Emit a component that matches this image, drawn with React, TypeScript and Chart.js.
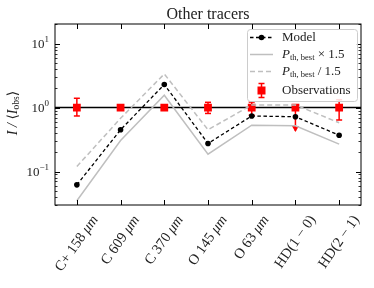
import React, { useEffect, useRef } from "react";
import { Chart, registerables } from "chart.js";

Chart.register(...registerables);

const categories = ["C+ 158 μm", "C 609 μm", "C 370 μm", "O 145 μm", "O 63 μm", "HD(1 − 0)", "HD(2 − 1)"];
const labelPrefixes = ["C+ 158 ", "C 609 ", "C 370 ", "O 145 ", "O 63 ", "HD(1 − 0)", "HD(2 − 1)"];
const labelUnits = ["μm", "μm", "μm", "μm", "μm", "", ""];
const modelValues = [0.062, 0.45, 2.3, 0.275, 0.74, 0.72, 0.37];
const pthTimes15 = [0.035, 0.305, 1.56, 0.187, 0.53, 0.52, 0.268];
const pthDiv15 = [0.12, 0.68, 3.36, 0.45, 1.1, 1.1, 0.58];
const obsValues = [1, 1, 1, 1, 1, 1, 1];
const obsErrHigh = [1.4, 1.0, 1.0, 1.21, 1.22, 1.0, 1.33];
const obsErrLow = [0.74, 1.0, 1.0, 0.81, 0.76, 0.43, 0.64];
const obsUpperLimit = [false, false, false, false, false, true, false];
const yTickExponents = [1, 0, -1];
const yMin = 0.03;
const yMax = 20.3;
const titleText = "Other tracers";

const SERIF = "'Liberation Serif', 'DejaVu Serif', serif";
const RED = "#ff0000";
const GRAY = "#bfbfbf";

const customPlugin = {
  id: "custom",
  beforeDatasetsDraw(chart: any) {
    const { ctx, chartArea, scales } = chart;
    const y = scales.y.getPixelForValue(1);
    ctx.save();
    ctx.strokeStyle = "#000";
    ctx.lineWidth = 1.5;
    ctx.beginPath();
    ctx.moveTo(chartArea.left, y);
    ctx.lineTo(chartArea.right, y);
    ctx.stroke();
    ctx.restore();
  },
  beforeDatasetDraw(chart: any, args: any) {
    if (args.index !== 3) return;
    const { ctx, scales } = chart;
    ctx.save();
    ctx.strokeStyle = RED;
    ctx.fillStyle = RED;
    ctx.lineWidth = 1.5;
    categories.forEach((_, i) => {
      const x = scales.x.getPixelForValue(i);
      const yh = scales.y.getPixelForValue(obsErrHigh[i]);
      const yl = scales.y.getPixelForValue(obsErrLow[i]);
      if (Math.abs(yl - yh) < 1) return;
      ctx.beginPath();
      ctx.moveTo(x, yh);
      ctx.lineTo(x, yl);
      ctx.stroke();
      if (obsErrHigh[i] > obsValues[i]) {
        ctx.beginPath();
        ctx.moveTo(x - 3, yh);
        ctx.lineTo(x + 3, yh);
        ctx.stroke();
      }
      if (obsUpperLimit[i]) {
        ctx.beginPath();
        ctx.moveTo(x - 3.5, yl - 5);
        ctx.lineTo(x + 3.5, yl - 5);
        ctx.lineTo(x, yl + 1);
        ctx.closePath();
        ctx.fill();
      } else {
        ctx.beginPath();
        ctx.moveTo(x - 3, yl);
        ctx.lineTo(x + 3, yl);
        ctx.stroke();
      }
    });
    ctx.restore();
  },
  afterDraw(chart: any) {
    const { ctx, chartArea, scales } = chart;
    const { left, right, top, bottom } = chartArea;
    ctx.save();
    // axes border
    ctx.strokeStyle = "#000";
    ctx.lineWidth = 1;
    ctx.strokeRect(left, top, right - left, bottom - top);
    // y ticks
    for (let d = -2; d <= 1; d++) {
      for (let m = 1; m <= 9; m++) {
        const v = m * Math.pow(10, d);
        if (v < yMin || v > yMax) continue;
        const py = Math.round(scales.y.getPixelForValue(v)) + 0.5;
        const len = m === 1 ? 5 : 2.5;
        ctx.lineWidth = m === 1 ? 1 : 0.8;
        ctx.beginPath();
        ctx.moveTo(left, py);
        ctx.lineTo(left + len, py);
        ctx.moveTo(right, py);
        ctx.lineTo(right - len, py);
        ctx.stroke();
      }
    }
    // x ticks
    ctx.lineWidth = 1;
    categories.forEach((_, i) => {
      const px = Math.round(scales.x.getPixelForValue(i)) + 0.5;
      ctx.beginPath();
      ctx.moveTo(px, bottom);
      ctx.lineTo(px, bottom - 5);
      ctx.moveTo(px, top);
      ctx.lineTo(px, top + 5);
      ctx.stroke();
    });
    // y tick labels
    ctx.fillStyle = "#222";
    yTickExponents.forEach((e) => {
      const py = scales.y.getPixelForValue(Math.pow(10, e));
      const sup = e < 0 ? "−" + Math.abs(e) : String(e);
      ctx.font = `9px ${SERIF}`;
      const sw = ctx.measureText(sup).width;
      ctx.font = `13px ${SERIF}`;
      const bw = ctx.measureText("10").width;
      const xr = left - 6;
      ctx.textBaseline = "middle";
      ctx.textAlign = "left";
      ctx.fillText("10", xr - sw - bw, py + 1);
      ctx.font = `9px ${SERIF}`;
      ctx.fillText(sup, xr - sw, py - 4);
    });
    // x labels rotated
    const theta = (55 * Math.PI) / 180;
    const FS = 14.5;
    ctx.textBaseline = "middle";
    ctx.textAlign = "left";
    labelPrefixes.forEach((pre, i) => {
      const px = scales.x.getPixelForValue(i);
      ctx.font = `${FS}px ${SERIF}`;
      const w1 = ctx.measureText(pre).width;
      ctx.font = `italic ${FS}px ${SERIF}`;
      const w2 = labelUnits[i] ? ctx.measureText(labelUnits[i]).width : 0;
      const L = w1 + w2;
      const h = 11;
      const bh = L * Math.sin(theta) + h * Math.cos(theta);
      const cy = bottom + 9 + bh / 2;
      ctx.save();
      ctx.translate(px, cy);
      ctx.rotate(-theta);
      ctx.font = `${FS}px ${SERIF}`;
      ctx.fillText(pre, -L / 2, 0);
      if (labelUnits[i]) {
        ctx.font = `italic ${FS}px ${SERIF}`;
        ctx.fillText(labelUnits[i], -L / 2 + w1, 0);
      }
      ctx.restore();
    });
    // y title
    ctx.save();
    ctx.translate(13, 113);
    ctx.rotate(-Math.PI / 2);
    ctx.textAlign = "left";
    ctx.textBaseline = "middle";
    ctx.font = `italic 14px ${SERIF}`;
    const w1 = ctx.measureText("I / ").width;
    ctx.font = `14px ${SERIF}`;
    const wb = ctx.measureText("⟨").width;
    ctx.font = `italic 14px ${SERIF}`;
    const wi = ctx.measureText("I").width;
    ctx.font = `9.5px ${SERIF}`;
    const ws = ctx.measureText("obs").width;
    ctx.font = `14px ${SERIF}`;
    const wr = ctx.measureText("⟩").width;
    const total = w1 + wb + wi + ws + wr;
    let xx = -total / 2;
    ctx.font = `italic 14px ${SERIF}`;
    ctx.fillText("I / ", xx, 0);
    xx += w1;
    ctx.font = `14px ${SERIF}`;
    ctx.fillText("⟨", xx, 0);
    xx += wb;
    ctx.font = `italic 14px ${SERIF}`;
    ctx.fillText("I", xx, 0);
    xx += wi;
    ctx.font = `9.5px ${SERIF}`;
    ctx.fillText("obs", xx, 3);
    xx += ws;
    ctx.font = `14px ${SERIF}`;
    ctx.fillText("⟩", xx, 0);
    ctx.restore();
    // title
    ctx.font = `16px ${SERIF}`;
    ctx.fillStyle = "#222";
    ctx.textAlign = "center";
    ctx.textBaseline = "middle";
    ctx.fillText(titleText, (left + right) / 2, 15);
    // legend
    const lx = 247, ly = 29, lw = 110, lh = 72;
    ctx.fillStyle = "rgba(255,255,255,0.85)";
    ctx.strokeStyle = "#cccccc";
    ctx.lineWidth = 1;
    ctx.beginPath();
    (ctx as any).roundRect(lx + 0.5, ly + 0.5, lw, lh, 3);
    ctx.fill();
    ctx.stroke();
    const sx0 = 250, sx1 = 273, tx = 282;
    const rows = [37.5, 54.5, 71.5, 90.5];
    // model
    ctx.strokeStyle = "#000";
    ctx.lineWidth = 1.5;
    ctx.setLineDash([3.5, 2.5]);
    ctx.beginPath();
    ctx.moveTo(sx0, rows[0]);
    ctx.lineTo(sx1, rows[0]);
    ctx.stroke();
    ctx.setLineDash([]);
    ctx.fillStyle = "#000";
    ctx.beginPath();
    ctx.arc((sx0 + sx1) / 2, rows[0], 2.8, 0, Math.PI * 2);
    ctx.fill();
    // solid gray
    ctx.strokeStyle = GRAY;
    ctx.beginPath();
    ctx.moveTo(sx0, rows[1]);
    ctx.lineTo(sx1, rows[1]);
    ctx.stroke();
    // dashed gray
    ctx.setLineDash([5, 3]);
    ctx.beginPath();
    ctx.moveTo(sx0, rows[2]);
    ctx.lineTo(sx1, rows[2]);
    ctx.stroke();
    ctx.setLineDash([]);
    // obs
    const ox = (sx0 + sx1) / 2;
    ctx.strokeStyle = RED;
    ctx.fillStyle = RED;
    ctx.lineWidth = 1.5;
    ctx.beginPath();
    ctx.moveTo(ox, rows[3] - 7);
    ctx.lineTo(ox, rows[3] + 7);
    ctx.moveTo(ox - 3, rows[3] - 7);
    ctx.lineTo(ox + 3, rows[3] - 7);
    ctx.moveTo(ox - 3, rows[3] + 7);
    ctx.lineTo(ox + 3, rows[3] + 7);
    ctx.stroke();
    ctx.fillRect(ox - 4, rows[3] - 4, 8, 8);
    // legend texts
    ctx.fillStyle = "#222";
    ctx.textAlign = "left";
    ctx.textBaseline = "middle";
    ctx.font = `13px ${SERIF}`;
    ctx.fillText("Model", tx, rows[0]);
    ctx.fillText("Observations", tx, rows[3]);
    const drawP = (yy: number, suffix: string) => {
      let x = tx;
      ctx.font = `italic 13px ${SERIF}`;
      ctx.fillText("P", x, yy);
      x += ctx.measureText("P").width;
      ctx.font = `8.5px ${SERIF}`;
      ctx.fillText("th, best", x, yy + 3.5);
      x += ctx.measureText("th, best").width;
      ctx.font = `13px ${SERIF}`;
      ctx.fillText(suffix, x, yy);
    };
    drawP(rows[1], " × 1.5");
    drawP(rows[2], " / 1.5");
    ctx.restore();
  },
};

export default function App() {
  const ref = useRef<HTMLCanvasElement | null>(null);
  useEffect(() => {
    document.body.style.margin = "0";
    if (!ref.current) return;
    const chart = new Chart(ref.current, {
      type: "line",
      data: {
        labels: categories,
        datasets: [
          {
            label: "Pth x 1.5",
            data: pthTimes15,
            borderColor: GRAY,
            borderWidth: 1.5,
            pointRadius: 0,
            tension: 0,
          },
          {
            label: "Pth / 1.5",
            data: pthDiv15,
            borderColor: GRAY,
            borderWidth: 1.5,
            borderDash: [5, 3],
            pointRadius: 0,
            tension: 0,
          },
          {
            label: "Model",
            data: modelValues,
            borderColor: "#000",
            backgroundColor: "#000",
            borderWidth: 1.3,
            borderDash: [3.5, 2.5],
            pointRadius: 2.8,
            pointBorderWidth: 0,
            tension: 0,
          },
          {
            label: "Observations",
            data: obsValues,
            showLine: false,
            borderColor: RED,
            backgroundColor: RED,
            pointStyle: "rect",
            pointRadius: 5.5,
            pointBorderWidth: 0,
          },
        ],
      } as any,
      options: {
        responsive: false,
        animation: false,
        layout: { padding: { top: 24, right: 13, left: 0, bottom: 0 } },
        plugins: { legend: { display: false }, title: { display: false }, tooltip: { enabled: false } },
        scales: {
          x: {
            type: "category",
            offset: true,
            grid: { display: false },
            border: { display: false },
            ticks: { display: false },
            afterFit: (s: any) => {
              s.height = 83;
            },
          },
          y: {
            type: "logarithmic",
            min: yMin,
            max: yMax,
            grid: { display: false },
            border: { display: false },
            ticks: { display: false },
            afterFit: (s: any) => {
              s.width = 55;
            },
          },
        },
      } as any,
      plugins: [customPlugin],
    });
    return () => chart.destroy();
  }, []);
  return (
    <div style={{ width: 374, height: 288 }}>
      <canvas ref={ref} width={374} height={288} />
    </div>
  );
}
